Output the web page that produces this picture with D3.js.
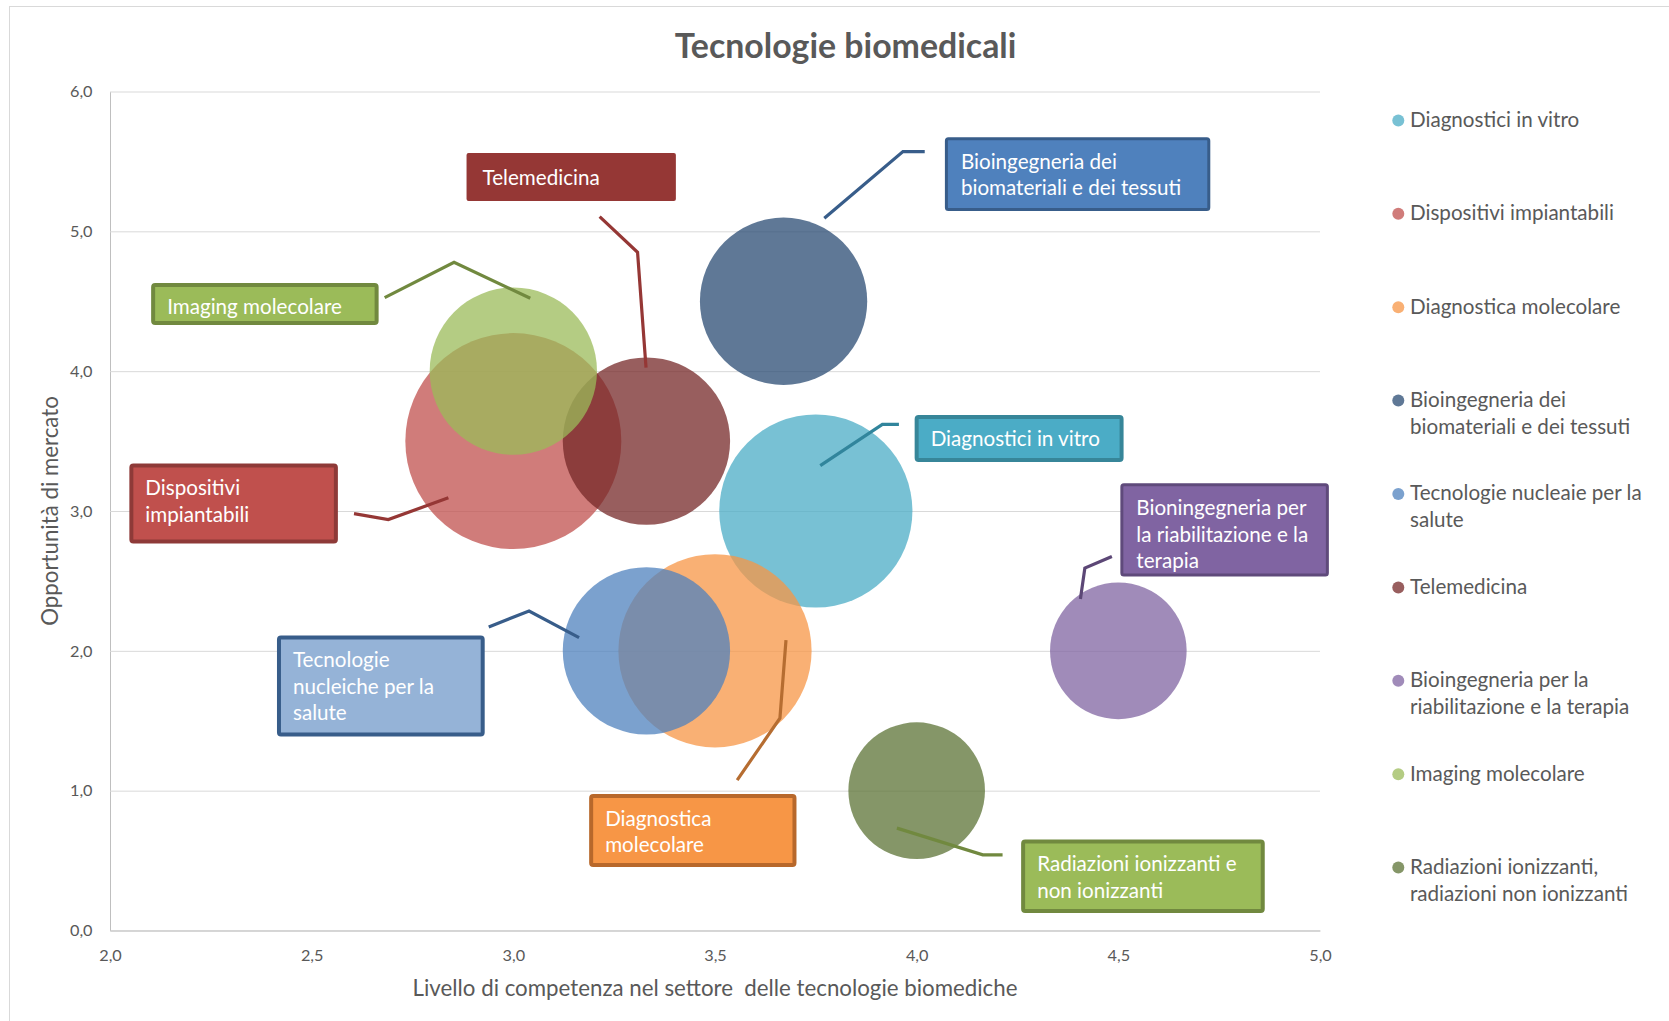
<!DOCTYPE html>
<html>
<head>
<meta charset="utf-8">
<script src="https://cdn.jsdelivr.net/npm/d3@7"></script>
<style>
  html, body { margin: 0; padding: 0; background: #ffffff; }
  svg { display: block; }
</style>
</head>
<body>
<svg id="chart" width="1669" height="1021"></svg>
<script>
// ---------------- DATA ----------------
const seriesNames = [
  "Diagnostici in vitro",
  "Dispositivi impiantabili",
  "Diagnostica molecolare",
  "Bioingegneria dei biomateriali e dei tessuti",
  "Tecnologie nucleaie per la salute",
  "Telemedicina",
  "Bioingegneria per la riabilitazione e la terapia",
  "Imaging molecolare",
  "Radiazioni ionizzanti, radiazioni non ionizzanti"
];
// Livello di competenza (x)
const xValues = [3.75, 3.0, 3.5, 3.67, 3.33, 3.33, 4.5, 3.0, 4.0];
// Opportunità di mercato (y)
const yValues = [3.0, 3.5, 2.0, 4.5, 2.0, 3.5, 2.0, 4.0, 1.0];
// bubble size
const sizes = [4, 5, 4, 3, 3, 3, 2, 3, 2];

const xTicks = [2.0, 2.5, 3.0, 3.5, 4.0, 4.5, 5.0];
const yTicks = [0, 1, 2, 3, 4, 5, 6];

const legendLabels = [
  ["Diagnostici in vitro"],
  ["Dispositivi impiantabili"],
  ["Diagnostica molecolare"],
  ["Bioingegneria dei", "biomateriali e dei tessuti"],
  ["Tecnologie nucleaie per la", "salute"],
  ["Telemedicina"],
  ["Bioingegneria per la", "riabilitazione e la terapia"],
  ["Imaging molecolare"],
  ["Radiazioni ionizzanti,", "radiazioni non ionizzanti"]
];

const boxLabels = [
  ["Diagnostici in vitro"],
  ["Dispositivi", "impiantabili"],
  ["Diagnostica", "molecolare"],
  ["Bioingegneria dei", "biomateriali e dei tessuti"],
  ["Tecnologie", "nucleiche per la", "salute"],
  ["Telemedicina"],
  ["Bioningegneria per", "la riabilitazione e la", "terapia"],
  ["Imaging molecolare"],
  ["Radiazioni ionizzanti e", "non ionizzanti"]
];

// ---------------- STYLE / LAYOUT ----------------
const bubbleColors = ["#4BACC6", "#C0504D", "#F79646", "#2A4B73", "#4F81BD", "#762828", "#8064A2", "#9BBB59", "#5C7336"];
const boxFill   = ["#4BACC6", "#C0504D", "#F79646", "#4F81BD", "#95B3D7", "#953735", "#8064A2", "#9BBB59", "#9BBB59"];
const boxStroke = ["#378699", "#8E3A38", "#B8682B", "#385D8A", "#385D8A", "#953735", "#5F4A7B", "#71893F", "#71893F"];
const boxStrokeW = [4, 4, 4, 3, 4, 0, 3, 4, 4];
const leaderColor = ["#31859C", "#953735", "#B66D31", "#385D8A", "#385D8A", "#953735", "#5C4776", "#71893F", "#71893F"];

// label box corners [x0, yTop, x1, yBottom] and leader polylines, in data units
const labelBoxes = [
  [3.995, 3.687, 4.513, 3.351],
  [2.048, 3.340, 2.565, 2.768],
  [3.188, 0.976, 3.702, 0.454],
  [4.070, 5.673, 4.728, 5.146],
  [2.414, 2.109, 2.929, 1.387],
  [2.884, 5.560, 3.403, 5.217],
  [4.505, 3.198, 5.022, 2.532],
  [2.102, 4.631, 2.666, 4.331],
  [4.259, 0.651, 4.863, 0.125]
];
const leaderLines = [
  [[3.761, 3.324], [3.915, 3.620], [3.956, 3.620]],
  [[2.605, 2.981], [2.690, 2.939], [2.839, 3.094]],
  [[3.555, 1.076], [3.661, 1.518], [3.676, 2.076]],
  [[3.771, 5.093], [3.966, 5.570], [4.020, 5.570]],
  [[2.939, 2.171], [3.039, 2.285], [3.163, 2.095]],
  [[3.214, 5.105], [3.308, 4.850], [3.329, 4.025]],
  [[4.406, 2.371], [4.417, 2.592], [4.484, 2.675]],
  [[2.681, 4.526], [2.853, 4.779], [3.042, 4.521]],
  [[3.951, 0.732], [4.164, 0.541], [4.213, 0.541]]
];

const FONT = "Lato, 'Open Sans', sans-serif";
const TEXT = "#595959";

const svg = d3.select("#chart");

// calibrate font size so that widths resemble Calibri metrics
function calib(weight, sample, emWidth) {
  const t = svg.append("text").attr("font-family", FONT).attr("font-weight", weight)
    .attr("font-size", 100).text(sample);
  const w = t.node().getComputedTextLength();
  t.remove();
  return emWidth * 100 / w;
}
const kReg = calib(400, "Dispositivi impiantabili", 9.19);
const kBold = calib(700, "Tecnologie biomedicali", 9.548);

const fsTitle = 35.8 * kBold;
const fsLabel = 22.2 * kReg;
const fsTick = 17.5 * kReg;
const fsAxis = 24 * kReg;

// background + chart border
svg.append("rect").attr("x", 0).attr("y", 0).attr("width", 1669).attr("height", 1021).attr("fill", "#fff");
svg.append("rect").attr("x", 9.5).attr("y", 6.5).attr("width", 2000).attr("height", 2000)
  .attr("fill", "none").attr("stroke", "#D9D9D9").attr("stroke-width", 1);

// scales
const x = d3.scaleLinear().domain([2, 5]).range([110, 1320]);
const y = d3.scaleLinear().domain([0, 6]).range([930.5, 91.5]);
const r = d3.scaleSqrt().domain([0, 5]).range([0, 108]);

const fmt = d => d.toFixed(1).replace(".", ",");

// y axis with gridlines
const yAxis = svg.append("g").attr("transform", `translate(${x(2)},0)`)
  .call(d3.axisLeft(y).tickValues(yTicks).tickFormat(fmt)
    .tickSizeInner(-(x(5) - x(2))).tickSizeOuter(0).tickPadding(17.5));
yAxis.select(".domain").attr("stroke", "#BFBFBF");
yAxis.selectAll(".tick line").attr("stroke", "#D9D9D9");
yAxis.selectAll(".tick text").attr("font-family", FONT).attr("font-size", fsTick).attr("fill", TEXT);

// x axis
const xAxis = svg.append("g").attr("transform", `translate(0,${y(0)})`)
  .call(d3.axisBottom(x).tickValues(xTicks).tickFormat(fmt).tickSize(0).tickPadding(18.5));
xAxis.select(".domain").attr("stroke", "#BFBFBF");
xAxis.selectAll(".tick text").attr("font-family", FONT).attr("font-size", fsTick).attr("fill", TEXT);

// bubbles
const data = xValues.map((v, i) => ({ i, x: v, y: yValues[i], s: sizes[i] }));
svg.append("g").selectAll("circle").data(data).join("circle")
  .attr("cx", d => x(d.x)).attr("cy", d => y(d.y)).attr("r", d => r(d.s))
  .attr("fill", d => bubbleColors[d.i]).attr("fill-opacity", 0.75);

// leader lines
const line = d3.line().x(p => x(p[0])).y(p => y(p[1]));
svg.append("g").selectAll("path").data(leaderLines).join("path")
  .attr("d", d => line(d)).attr("fill", "none")
  .attr("stroke", (d, i) => leaderColor[i]).attr("stroke-width", 3.2);

// label boxes
const boxes = svg.append("g").selectAll("g").data(labelBoxes).join("g");
boxes.append("rect")
  .attr("x", (b, i) => x(b[0]) + boxStrokeW[i] / 2)
  .attr("y", (b, i) => y(b[1]) + boxStrokeW[i] / 2)
  .attr("width", (b, i) => x(b[2]) - x(b[0]) - boxStrokeW[i])
  .attr("height", (b, i) => y(b[3]) - y(b[1]) - boxStrokeW[i])
  .attr("rx", 2)
  .attr("fill", (b, i) => boxFill[i])
  .attr("stroke", (b, i) => boxStroke[i])
  .attr("stroke-width", (b, i) => boxStrokeW[i]);
boxes.each(function (b, i) {
  const g = d3.select(this);
  boxLabels[i].forEach((ln, j) => {
    g.append("text").attr("x", x(b[0]) + 16).attr("y", y(b[1]) + 31.5 + j * 26.7)
      .attr("font-family", FONT).attr("font-size", fsLabel).attr("fill", "#fff").text(ln);
  });
});

// title
svg.append("text").attr("x", 845.5).attr("y", 57.5).attr("text-anchor", "middle")
  .attr("font-family", FONT).attr("font-weight", 700).attr("font-size", fsTitle)
  .attr("fill", TEXT).text("Tecnologie biomedicali");

// axis titles
svg.append("text").attr("x", (x(2) + x(5)) / 2).attr("y", 996).attr("text-anchor", "middle")
  .attr("font-family", FONT).attr("font-size", fsAxis).attr("fill", TEXT)
  .attr("xml:space", "preserve").style("white-space", "pre")
  .text("Livello di competenza nel settore  delle tecnologie biomediche");
svg.append("text").attr("transform", `translate(58,${(y(0) + y(6)) / 2}) rotate(-90)`)
  .attr("text-anchor", "middle").attr("font-family", FONT).attr("font-size", fsAxis)
  .attr("fill", TEXT).text("Opportunità di mercato");

// legend
const legend = svg.append("g").selectAll("g").data(legendLabels).join("g")
  .attr("transform", (d, i) => `translate(1398.3,${126.7 + i * 93.4})`);
legend.append("circle").attr("cx", 0).attr("cy", -6.3).attr("r", 6)
  .attr("fill", (d, i) => bubbleColors[i]).attr("fill-opacity", 0.75);
legend.each(function (lines) {
  const g = d3.select(this);
  lines.forEach((ln, j) => {
    g.append("text").attr("x", 11.7).attr("y", j * 26.7)
      .attr("font-family", FONT).attr("font-size", fsLabel).attr("fill", TEXT).text(ln);
  });
});
</script>
</body>
</html>
